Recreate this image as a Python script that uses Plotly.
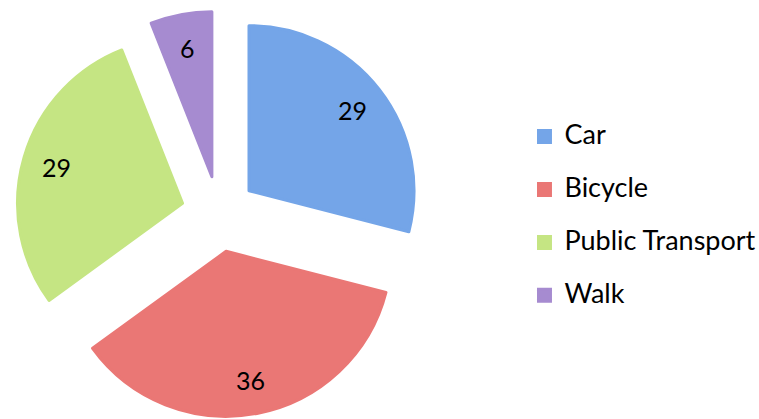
import math
import plotly.graph_objects as go

categories = ["Car", "Bicycle", "Public Transport", "Walk"]
values = [29, 36, 29, 6]
colors = ["#74A5E8", "#EA7775", "#C5E583", "#A68BD0"]

W, H = 759, 419
legend_fs = 19.2
label_fs = 27
value_fs = 25

# pie geometry (pixels)
CX, CY = 219, 214          # pie centre
SIDE = 406                 # domain side
LABEL_R = 169              # distance of value labels from pie centre

legend_labels = [f"<span style='font-size:{label_fs}px'>{c}</span><br> " for c in categories]

fig = go.Figure(go.Pie(
    labels=legend_labels,
    values=values,
    marker=dict(colors=colors, line=dict(width=3, color=colors)),
    sort=False,
    direction="clockwise",
    rotation=0,
    pull=[0.23] * len(values),
    textinfo="none",
    domain=dict(x=[(CX - SIDE / 2) / W, (CX + SIDE / 2) / W],
                y=[1 - (CY + SIDE / 2) / H, 1 - (CY - SIDE / 2) / H]),
    hoverinfo="label+value",
))

# value labels, placed along each slice's mid-angle
total = sum(values)
cum = 0
for v in values:
    mid = (cum + v / 2) / total * 2 * math.pi
    cum += v
    px = CX + LABEL_R * math.sin(mid)
    py = CY - LABEL_R * math.cos(mid)
    fig.add_annotation(
        x=px / W, y=1 - py / H, xref="paper", yref="paper",
        text=str(v), showarrow=False, xanchor="center", yanchor="middle",
        font=dict(family="Lato", size=value_fs, color="black"),
    )

fig.update_layout(
    width=W, height=H,
    margin=dict(l=0, r=0, t=0, b=0, autoexpand=False),
    paper_bgcolor="white",
    plot_bgcolor="white",
    font=dict(family="Lato", color="black"),
    legend=dict(
        x=0.6910, y=0.4545, xanchor="left", yanchor="middle",
        font=dict(family="Lato", size=legend_fs, color="black"),
        valign="top",
        bgcolor="rgba(0,0,0,0)",
    ),
    showlegend=True,
)

fig.write_html("out.html", config={"displayModeBar": False},
               post_script="document.body.style.margin='0';")
